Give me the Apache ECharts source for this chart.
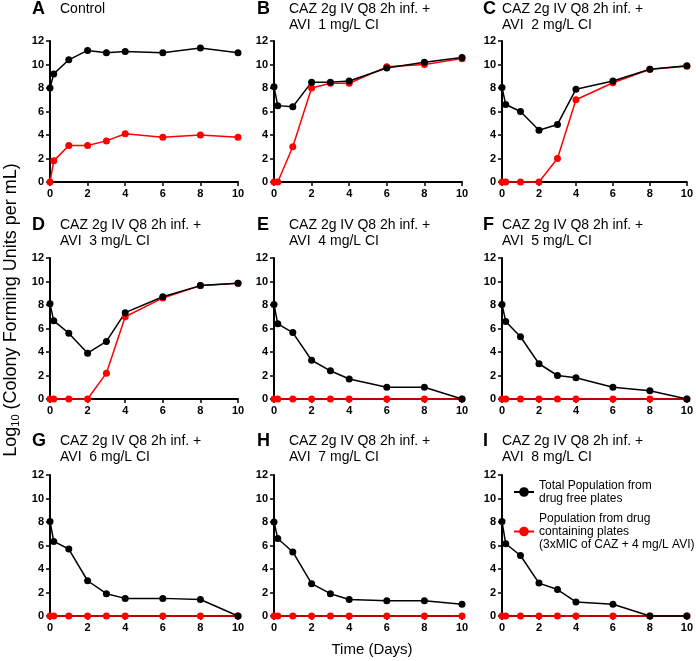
<!DOCTYPE html>
<html>
<head>
<meta charset="utf-8">
<script src="https://cdn.jsdelivr.net/npm/echarts@6/dist/echarts.min.js"></script>
<style>
  html, body { margin: 0; padding: 0; background: #fff; }
  #chart { width: 696px; height: 661px; }
</style>
</head>
<body>
<div id="chart"></div>
<script>
// sampling times (days)
const days = [0, 0.2, 1, 2, 3, 4, 6, 8, 10]

// log10 CFU/mL, total population (drug free plates)
const totalA = [8.0, 9.2, 10.4, 11.2, 11.0, 11.1, 11.0, 11.4, 11.0]
const totalB = [8.1, 6.5, 6.4, 8.5, 8.5, 8.6, 9.7, 10.2, 10.6]
const totalC = [8.05, 6.6, 6.0, 4.4, 4.9, 7.9, 8.6, 9.6, 9.9]
const totalD = [8.1, 6.65, 5.6, 3.9, 4.9, 7.35, 8.7, 9.65, 9.85]
const totalE = [8.05, 6.4, 5.65, 3.3, 2.4, 1.7, 1.0, 1.0, 0]
const totalF = [8.05, 6.6, 5.3, 3.0, 2.0, 1.8, 1.0, 0.7, 0]
const totalG = [8.05, 6.35, 5.7, 3.0, 1.9, 1.5, 1.5, 1.4, 0]
const totalH = [8.0, 6.6, 5.45, 2.75, 1.9, 1.4, 1.3, 1.3, 1.0]
const totalI = [8.05, 6.15, 5.15, 2.8, 2.25, 1.2, 1.0, 0, 0]

// log10 CFU/mL, population from drug containing plates
const drugA = [0, 1.8, 3.1, 3.1, 3.5, 4.1, 3.8, 4.0, 3.8]
const drugB = [0, 0, 3.0, 8.0, 8.4, 8.4, 9.8, 10.0, 10.5]
const drugC = [0, 0, 0, 0, 2.0, 7.0, 8.45, 9.6, 9.85]
const drugD = [0, 0, 0, 0, 2.2, 7.0, 8.6, 9.65, 9.85]
const drugE = [0, 0, 0, 0, 0, 0, 0, 0, 0]
const drugF = [0, 0, 0, 0, 0, 0, 0, 0, 0]
const drugG = [0, 0, 0, 0, 0, 0, 0, 0, 0]
const drugH = [0, 0, 0, 0, 0, 0, 0, 0, 0]
const drugI = [0, 0, 0, 0, 0, 0, 0, 0, 0]

const panelLetters = ['A', 'B', 'C', 'D', 'E', 'F', 'G', 'H', 'I']
const panelTitles = [
  'Control',
  'CAZ 2g IV Q8 2h inf. +\nAVI  1 mg/L CI',
  'CAZ 2g IV Q8 2h inf. +\nAVI  2 mg/L CI',
  'CAZ 2g IV Q8 2h inf. +\nAVI  3 mg/L CI',
  'CAZ 2g IV Q8 2h inf. +\nAVI  4 mg/L CI',
  'CAZ 2g IV Q8 2h inf. +\nAVI  5 mg/L CI',
  'CAZ 2g IV Q8 2h inf. +\nAVI  6 mg/L CI',
  'CAZ 2g IV Q8 2h inf. +\nAVI  7 mg/L CI',
  'CAZ 2g IV Q8 2h inf. +\nAVI  8 mg/L CI'
]
const totals = [totalA, totalB, totalC, totalD, totalE, totalF, totalG, totalH, totalI]
const drugs = [drugA, drugB, drugC, drugD, drugE, drugF, drugG, drugH, drugI]

const totalName = 'Total Population from\ndrug free plates'
const drugName = 'Population from drug\ncontaining plates\n(3xMIC of CAZ + 4 mg/L AVI)'

// layout
const colLeft = [50, 274, 502]
const colLetter = [32, 257, 483]
const colText = [60, 289, 502]
const rowTop = [41, 258, 475]
const rowTitle = [0, 216, 432]
const gridW = 188
const gridH = 141

const chart = echarts.init(document.getElementById('chart'))

const grids = []
const xAxes = []
const yAxes = []
const series = []
const titles = []

const pair = (arr) => arr.map((v, i) => [days[i], v])

const tickLabel = { color: '#000', fontSize: 11, fontWeight: 'bold', fontFamily: 'Liberation Sans' }

for (let p = 0; p < 9; p++) {
  const r = Math.floor(p / 3)
  const c = p % 3
  grids.push({ left: colLeft[c], top: rowTop[r], width: gridW, height: gridH })
  xAxes.push({
    type: 'value',
    gridIndex: p,
    min: 0,
    max: 10,
    interval: 2,
    splitLine: { show: false },
    axisLine: { onZero: false, lineStyle: { color: '#000', width: 2 } },
    axisTick: { show: true, length: 4, lineStyle: { color: '#000', width: 1.5 } },
    axisLabel: { ...tickLabel, margin: 6 }
  })
  yAxes.push({
    type: 'value',
    gridIndex: p,
    min: 0,
    max: 12,
    interval: 2,
    splitLine: { show: false },
    axisLine: { show: true, onZero: false, lineStyle: { color: '#000', width: 2 } },
    axisTick: { show: true, length: 4, lineStyle: { color: '#000', width: 1.5 } },
    axisLabel: { ...tickLabel, margin: 6 }
  })
  // red first so black sits on top
  series.push({
    name: drugName,
    type: 'line',
    xAxisIndex: p,
    yAxisIndex: p,
    data: pair(drugs[p]),
    symbol: 'circle',
    symbolSize: 7,
    clip: false,
    lineStyle: { color: '#ff0000', width: 1.5 },
    itemStyle: { color: '#ff0000' }
  })
  series.push({
    name: totalName,
    type: 'line',
    xAxisIndex: p,
    yAxisIndex: p,
    data: pair(totals[p]),
    symbol: 'circle',
    symbolSize: 7,
    clip: false,
    lineStyle: { color: '#000', width: 1.5 },
    itemStyle: { color: '#000' }
  })
  titles.push({
    text: panelLetters[p],
    left: colLetter[c],
    top: rowTitle[r],
    padding: 0,
    textStyle: { fontSize: 18, fontWeight: 'bold', color: '#000', fontFamily: 'Liberation Sans' }
  })
  titles.push({
    text: panelTitles[p],
    left: colText[c],
    top: rowTitle[r] + 1,
    padding: 0,
    textStyle: { fontSize: 14, fontWeight: 'normal', color: '#000', fontFamily: 'Liberation Sans', lineHeight: 16 }
  })
}

const option = {
  animation: false,
  backgroundColor: '#fff',
  title: titles,
  grid: grids,
  xAxis: xAxes,
  yAxis: yAxes,
  series: series,
  legend: {
    data: [totalName, drugName],
    orient: 'vertical',
    left: 513,
    top: 479,
    padding: 0,
    itemGap: 7,
    itemWidth: 20,
    itemHeight: 12,
    selectedMode: false,
    textStyle: { fontSize: 12, color: '#000', fontFamily: 'Liberation Sans', lineHeight: 13 }
  },
  graphic: [
    {
      type: 'text',
      x: 11,
      y: 310,
      rotation: Math.PI / 2,
      style: {
        text: '{n|Log}{s|10}{n| (Colony Forming Units per mL)}',
        align: 'center',
        verticalAlign: 'middle',
        fill: '#000',
        rich: {
          n: { fontSize: 18, fontFamily: 'Liberation Sans', fill: '#000' },
          s: { fontSize: 11, fontFamily: 'Liberation Sans', fill: '#000', padding: [9, 0, 0, 0] }
        }
      }
    },
    {
      type: 'text',
      x: 372,
      y: 650,
      style: {
        text: 'Time (Days)',
        align: 'center',
        verticalAlign: 'middle',
        fill: '#000',
        font: '15px "Liberation Sans"'
      }
    }
  ]
}

chart.setOption(option)
</script>
</body>
</html>
